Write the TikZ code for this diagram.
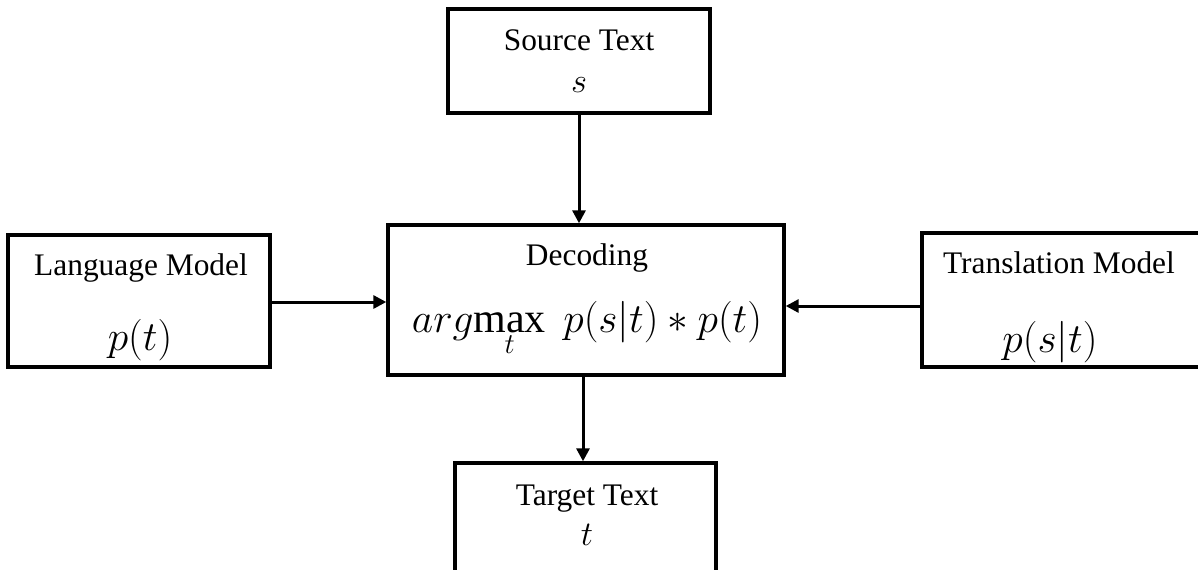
\documentclass[tikz,border=0pt]{standalone}
\usepackage{fontspec}
\setmainfont{Liberation Serif}
\usetikzlibrary{arrows.meta}
\begin{document}
\begin{tikzpicture}[x=0.5pt,y=-0.5pt,
  box/.style={draw,line width=1.7pt,inner sep=0pt},
  lbl/.style={anchor=base,inner sep=0pt,font=\fontsize{15.7}{18}\selectfont},
  mth/.style={anchor=base,inner sep=0pt,font=\fontsize{21}{25}\selectfont},
  link/.style={line width=1.5pt,-{Triangle[length=6.5pt,width=6.5pt]}}]
\useasboundingbox (0,0) rectangle (1198,569);
\clip (0,0) rectangle (1198,569);

% boxes
\node[box,minimum width=131pt,minimum height=52pt]   (src) at (579,61) {};
\node[box,minimum width=198pt,minimum height=75pt]   (dec) at (586,300) {};
\node[box,minimum width=131pt,minimum height=66pt]   (lm)  at (139,301) {};
\node[box,minimum width=146.5pt,minimum height=67pt] (tm)  at (1068.5,300) {};
\node[box,minimum width=130.5pt,minimum height=62pt] (tgt) at (585.5,525) {};

% labels
\node[lbl] (srcT) at (579,50)  {Source Text};
\node[lbl,font=\fontsize{18}{21}\selectfont] (srcM) at (579,92)  {$s$};
\node[lbl] (decT) at (587,265) {Decoding};
\node[mth] (decM) at (587,332) {$\displaystyle arg\!\max_{t}\ p(s|t)*p(t)$};
\node[lbl] (lmT)  at (141,275) {Language Model};
\node[mth] (lmM)  at (140,350) {$p(t)$};
\node[lbl] (tmT)  at (1059,273) {Translation Model};
\node[mth] (tmM)  at (1050,352) {$p(s|t)$};
\node[lbl] (tgtT) at (587,505) {Target Text};
\node[lbl,font=\fontsize{18}{21}\selectfont] (tgtM) at (587,545) {$t$};

% connectors
\draw[link] (src.south) -- (src.south |- dec.north);
\draw[link] ([xshift=-1.25pt]tgt.north |- dec.south) -- ([xshift=-1.25pt]tgt.north);
\draw[link] ([yshift=-0.5pt]lm.east) -- ([yshift=-0.5pt]lm.east -| dec.west);
\draw[link] ([yshift=-3pt]tm.west) -- ([yshift=-3pt]tm.west -| dec.east);
\end{tikzpicture}
\end{document}
